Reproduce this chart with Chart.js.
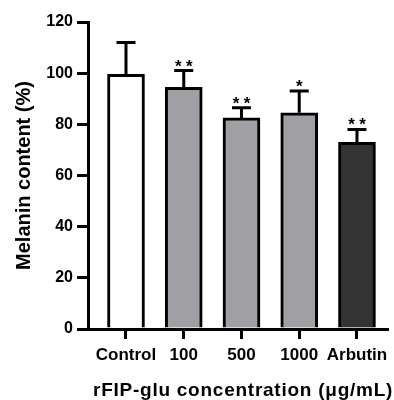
<!DOCTYPE html>
<html>
<head>
<meta charset="utf-8">
<script src="https://cdn.jsdelivr.net/npm/chart.js@4.4.1/dist/chart.umd.min.js"></script>
<style>
  body { margin: 0; background: #fff; }
  #box { width: 394px; height: 400px; }
</style>
</head>
<body>
<div id="box"><canvas id="myChart"></canvas></div>
<script>
const groups = ['Control', '100', '500', '1000', 'Arbutin'];
const melanin = [99.5, 94.5, 82.5, 84.5, 73];
const errUp = [12.5, 6.5, 4, 8.5, 5];
const stars = ['', '**', '**', '*', '**'];
const yTicks = [0, 20, 40, 60, 80, 100, 120];
const xTitle = 'rFIP-glu concentration (μg/mL)';

const barColors = ['#ffffff', '#a0a0a4', '#a0a0a4', '#a0a0a4', '#333333'];
const fontFam = '"Liberation Sans", Arial, sans-serif';

// error bars + significance stars + x title
const errorBars = {
  id: 'errorBars',
  afterDatasetsDraw(chart) {
    const ctx = chart.ctx;
    const xs = chart.scales.x;
    const ys = chart.scales.y;
    ctx.save();
    ctx.strokeStyle = '#000';
    ctx.lineWidth = 3;
    ctx.fillStyle = '#000';
    ctx.font = 'bold 17px ' + fontFam;
    ctx.textAlign = 'center';
    ctx.textBaseline = 'alphabetic';
    melanin.forEach((v, i) => {
      const x = xs.getPixelForValue(i);
      const y0 = ys.getPixelForValue(v);
      const y1 = ys.getPixelForValue(v + errUp[i]);
      ctx.beginPath();
      ctx.moveTo(x, y0);
      ctx.lineTo(x, y1);
      ctx.moveTo(x - 9.5, y1);
      ctx.lineTo(x + 9.5, y1);
      ctx.stroke();
      const n = stars[i].length;
      for (let k = 0; k < n; k++) {
        ctx.fillText('*', x + (k - (n - 1) / 2) * 11, y1 + 1);
      }
    });

    ctx.font = 'bold 19px ' + fontFam;
    ctx.letterSpacing = '0.75px';
    ctx.textAlign = 'left';
    ctx.fillText(xTitle, 93, 396);
    ctx.restore();
  }
};

const ctx = document.getElementById('myChart');

new Chart(ctx, {
  type: 'bar',
  data: {
    datasets: [{
      data: melanin.map((v, i) => ({ x: i, y: v })),
      backgroundColor: barColors,
      borderColor: '#000',
      borderWidth: 3,
      borderSkipped: 'start',
      barThickness: 37
    }]
  },
  options: {
    responsive: true,
    maintainAspectRatio: false,
    animation: false,
    events: [],
    layout: { padding: { top: 22, right: 7, left: 0, bottom: 0 } },
    plugins: {
      legend: { display: false },
      tooltip: { enabled: false }
    },
    scales: {
      x: {
        type: 'linear',
        offset: false,
        min: -0.658,
        max: 4.52,
        afterBuildTicks: s => {
          s.ticks = groups.map((g, i) => ({ value: i }));
        },
        afterFit: s => { s.height = 71; },
        border: { color: '#000', width: 3 },
        grid: {
          offset: false,
          drawOnChartArea: false,
          color: '#000',
          lineWidth: 3,
          tickLength: 10
        },
        ticks: {
          color: '#000',
          font: { family: fontFam, size: 17, weight: 'bold' },
          padding: 6,
          autoSkip: false,
          maxRotation: 0,
          callback: v => groups[v]
        }
      },
      y: {
        min: 0,
        max: 120,
        afterBuildTicks: s => {
          s.ticks = yTicks.map(t => ({ value: t }));
        },
        afterFit: s => { s.width = 88; },
        border: { color: '#000', width: 3 },
        grid: {
          drawOnChartArea: false,
          color: '#000',
          lineWidth: 3,
          tickLength: 11
        },
        ticks: {
          color: '#000',
          font: { family: fontFam, size: 16, weight: 'bold' },
          padding: 4
        },
        title: {
          display: true,
          text: 'Melanin content (%)',
          color: '#000',
          font: { family: fontFam, size: 20, weight: 'bold' },
          padding: { top: 12, bottom: 0 }
        }
      }
    }
  },
  plugins: [errorBars]
});
</script>
</body>
</html>
